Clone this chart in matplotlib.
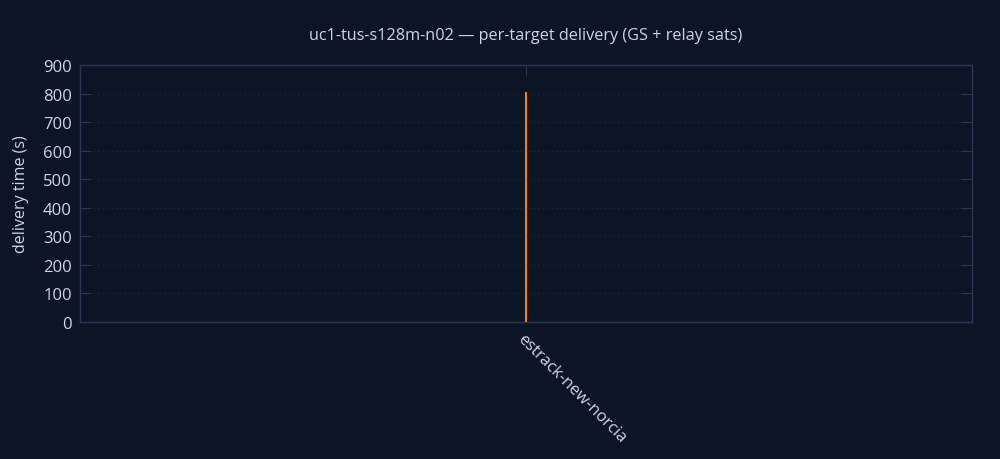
import matplotlib
matplotlib.use("Agg")
import matplotlib.pyplot as plt

targets = ["estrack-new-norcia"]
delivery_s = [805]

bg = "#0b1526"
fg = "#c9d5e8"
edge = "#2b3652"

plt.rcParams['font.family'] = ['Open Sans', 'DejaVu Sans']

fig = plt.figure(figsize=(10, 4.6), dpi=100, facecolor=bg)
ax = fig.add_axes([0.08, 0.298, 0.892, 0.5585], facecolor=bg)

xs = list(range(len(targets)))
ax.bar(xs, delivery_s, width=0.0025, color="#ff7f0e", zorder=3)

ax.set_xlim(-0.5, len(targets) - 0.5)
ax.set_ylim(0, 900)
ax.set_yticks(range(0, 901, 100))
ax.set_xticks(xs)
ax.set_xticklabels(targets, rotation=-45, ha="left", va="top", rotation_mode="anchor")

for s in ax.spines.values():
    s.set_color(edge)
    s.set_linewidth(1)
ax.tick_params(axis="both", direction="in", length=8, color=edge, labelcolor=fg,
               labelsize=12, left=True, right=True, top=True, bottom=True, pad=6)
ax.tick_params(axis="x", pad=6)
ax.grid(axis="y", color="#1f2d47", linestyle=(0, (1, 3)), linewidth=0.8, zorder=0)

ax.set_ylabel("delivery time (s)", color=fg, fontsize=11.5, labelpad=10)
ax.set_title("uc1-tus-s128m-n02 — per-target delivery (GS + relay sats)", color=fg,
             fontsize=11.7, pad=19)

fig.savefig("out.png", facecolor=bg)
